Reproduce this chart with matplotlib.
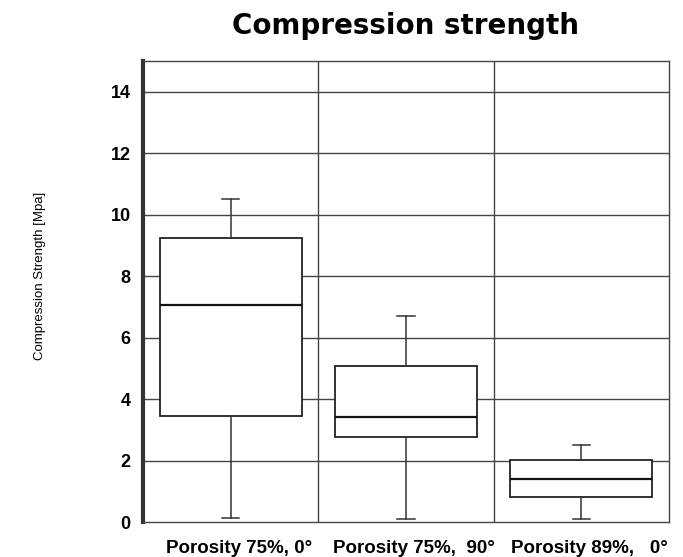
import matplotlib.pyplot as plt
import matplotlib.transforms as mtransforms

# 三組試片的抗壓強度 (MPa) 箱形圖統計值
labels = ['Porosity 75%, 0°', 'Porosity 75%,  90°', 'Porosity 89%,   0°']
whislo = [0.12, 0.10, 0.11]
q1 = [3.44, 2.77, 0.82]
med = [7.05, 3.42, 1.39]
q3 = [9.25, 5.06, 2.01]
whishi = [10.5, 6.7, 2.52]
yticks = [0, 2, 4, 6, 8, 10, 12, 14]

stats = []
for i in range(len(labels)):
    stats.append({'label': labels[i], 'whislo': whislo[i], 'q1': q1[i], 'med': med[i],
                  'q3': q3[i], 'whishi': whishi[i], 'fliers': []})

fig = plt.figure(figsize=(6.83, 5.57), dpi=100)
ax = fig.add_axes([0.2094, 0.0628, 0.7701, 0.8277])

# 格線
for y in yticks[1:]:
    ax.axhline(y, color='#444444', lw=1, zorder=0)
for x in [1.5, 2.5]:
    ax.axvline(x, color='#444444', lw=1, zorder=0)

ax.bxp(stats, widths=0.81, capwidths=0.1, patch_artist=True, showfliers=False,
       boxprops={'facecolor': 'white', 'edgecolor': '#222222', 'linewidth': 1.3},
       medianprops={'color': '#111111', 'linewidth': 1.6},
       whiskerprops={'color': '#333333', 'linewidth': 1.1},
       capprops={'color': '#333333', 'linewidth': 1.1})

ax.set_xlim(0.5, 3.5)
ax.set_ylim(0, 15)
ax.set_yticks(yticks)
ax.set_yticklabels([str(v) for v in yticks], fontsize=13, fontweight='bold',
                   family=['Liberation Sans', 'DejaVu Sans'])
ax.set_xticks([1, 2, 3])
ax.set_xticklabels(labels, fontsize=13.5, fontweight='bold',
                   family=['Liberation Sans', 'DejaVu Sans'])
ax.tick_params(axis='y', length=0, pad=9)
ax.tick_params(axis='x', length=0, pad=13)

# x 標籤稍微往右移
offset = mtransforms.ScaledTranslation(8 / 100, 0, fig.dpi_scale_trans)
for lab in ax.get_xticklabels():
    lab.set_transform(lab.get_transform() + offset)

for s in ['top', 'right', 'bottom']:
    ax.spines[s].set_color('#444444')
    ax.spines[s].set_linewidth(1)
ax.spines['left'].set_color('#333333')
ax.spines['left'].set_linewidth(3)

fig.text(0.059, 0.505, 'Compression Strength [Mpa]', rotation=90, ha='center', va='center',
         fontsize=9.5, family=['Liberation Sans Narrow', 'Liberation Sans', 'DejaVu Sans'])
fig.text(0.594, 0.953, 'Compression strength', ha='center', va='center',
         fontsize=20, fontweight='bold', family=['DejaVu Sans'])

plt.savefig('out.png', dpi=100)
plt.close()
